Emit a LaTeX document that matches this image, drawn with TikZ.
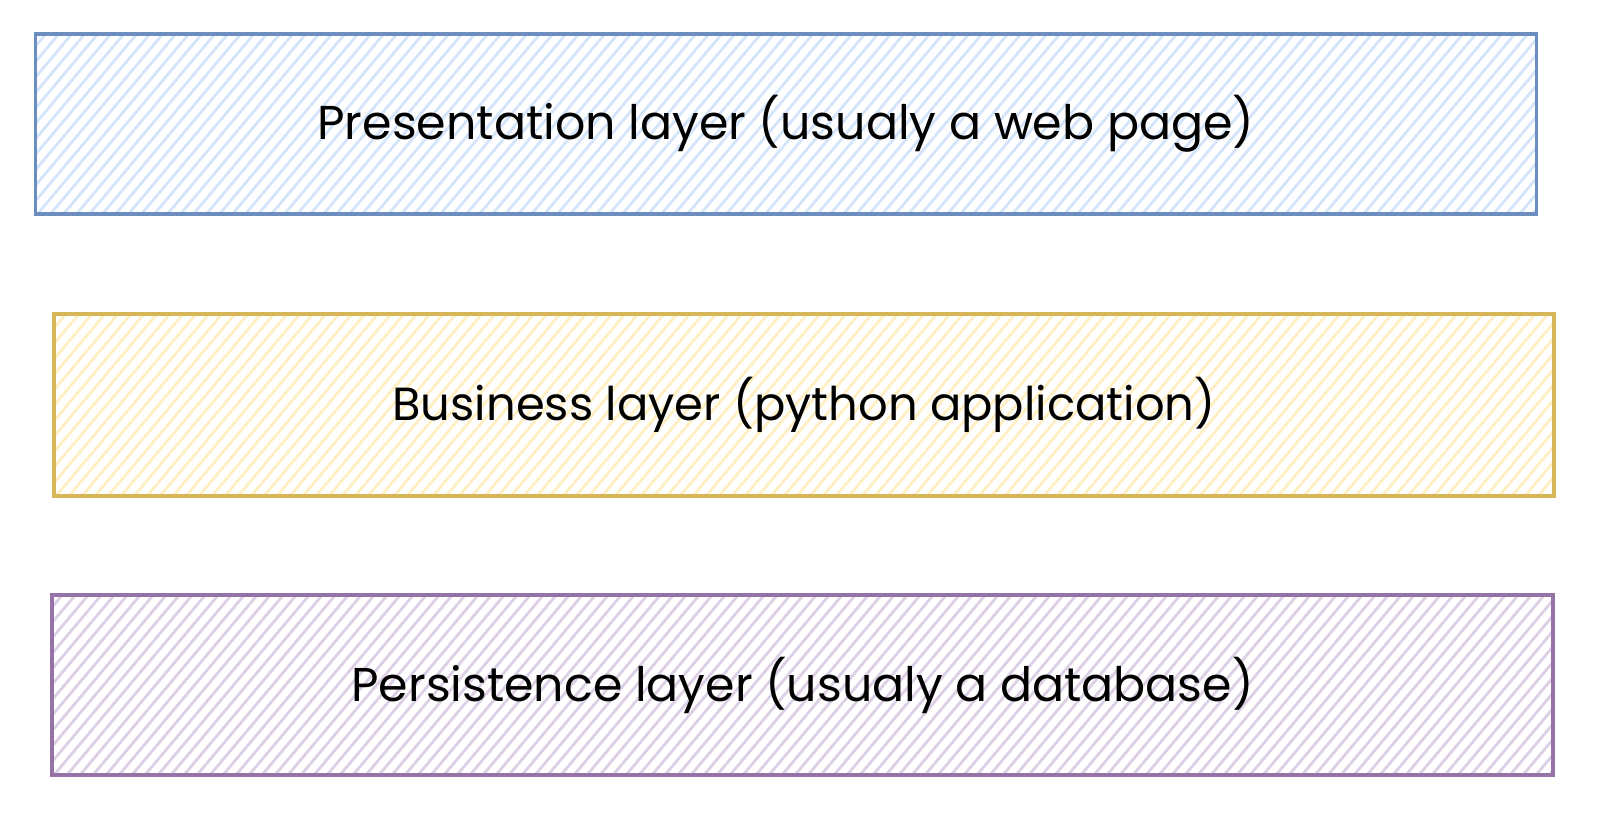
\documentclass[tikz,border=0pt]{standalone}
\usepackage{fontspec}
\setmainfont{Poppins}
\definecolor{bluestroke}{HTML}{6C8EBF}
\definecolor{bluefill}{HTML}{D4E4FB}
\definecolor{yellowstroke}{HTML}{D6B656}
\definecolor{yellowfill}{HTML}{FFEFC2}
\definecolor{purplestroke}{HTML}{9673A6}
\definecolor{purplefill}{HTML}{DDCFE4}
\begin{document}
\begin{tikzpicture}[x=1pt,y=1pt,
  layer/.style args={#1/#2}{draw=#1, line width=3.2pt, inner sep=0pt,
    minimum width=1501pt, minimum height=180pt,
    path picture={
      \foreach \i in {-180,-167,...,1520}{
        \draw[#2, line width=2.8pt, line cap=round]
          ([xshift=\i pt]path picture bounding box.south west) -- ++(153,182);
      }
    }},
  lbl/.style={font=\fontsize{30}{36}\selectfont, text=black}]
\useasboundingbox (0,0) rectangle (1600,824);
\node[layer=bluestroke/bluefill] (pres) at (786,700) {};
\node[layer=yellowstroke/yellowfill, minimum width=1500pt, minimum height=182pt] (bus) at (804,419) {};
\node[layer=purplestroke/purplefill] (pers) at (802.5,139) {};
\node[lbl] (t1) at (pres.center) {\resizebox{937pt}{!}{Presentation layer (usualy a web page)}};
\node[lbl] (t2) at (bus.center) {\resizebox{823pt}{!}{Business layer (python application)}};
\node[lbl] (t3) at (pers.center) {\resizebox{902pt}{!}{Persistence layer (usualy a database)}};
\end{tikzpicture}
\end{document}
